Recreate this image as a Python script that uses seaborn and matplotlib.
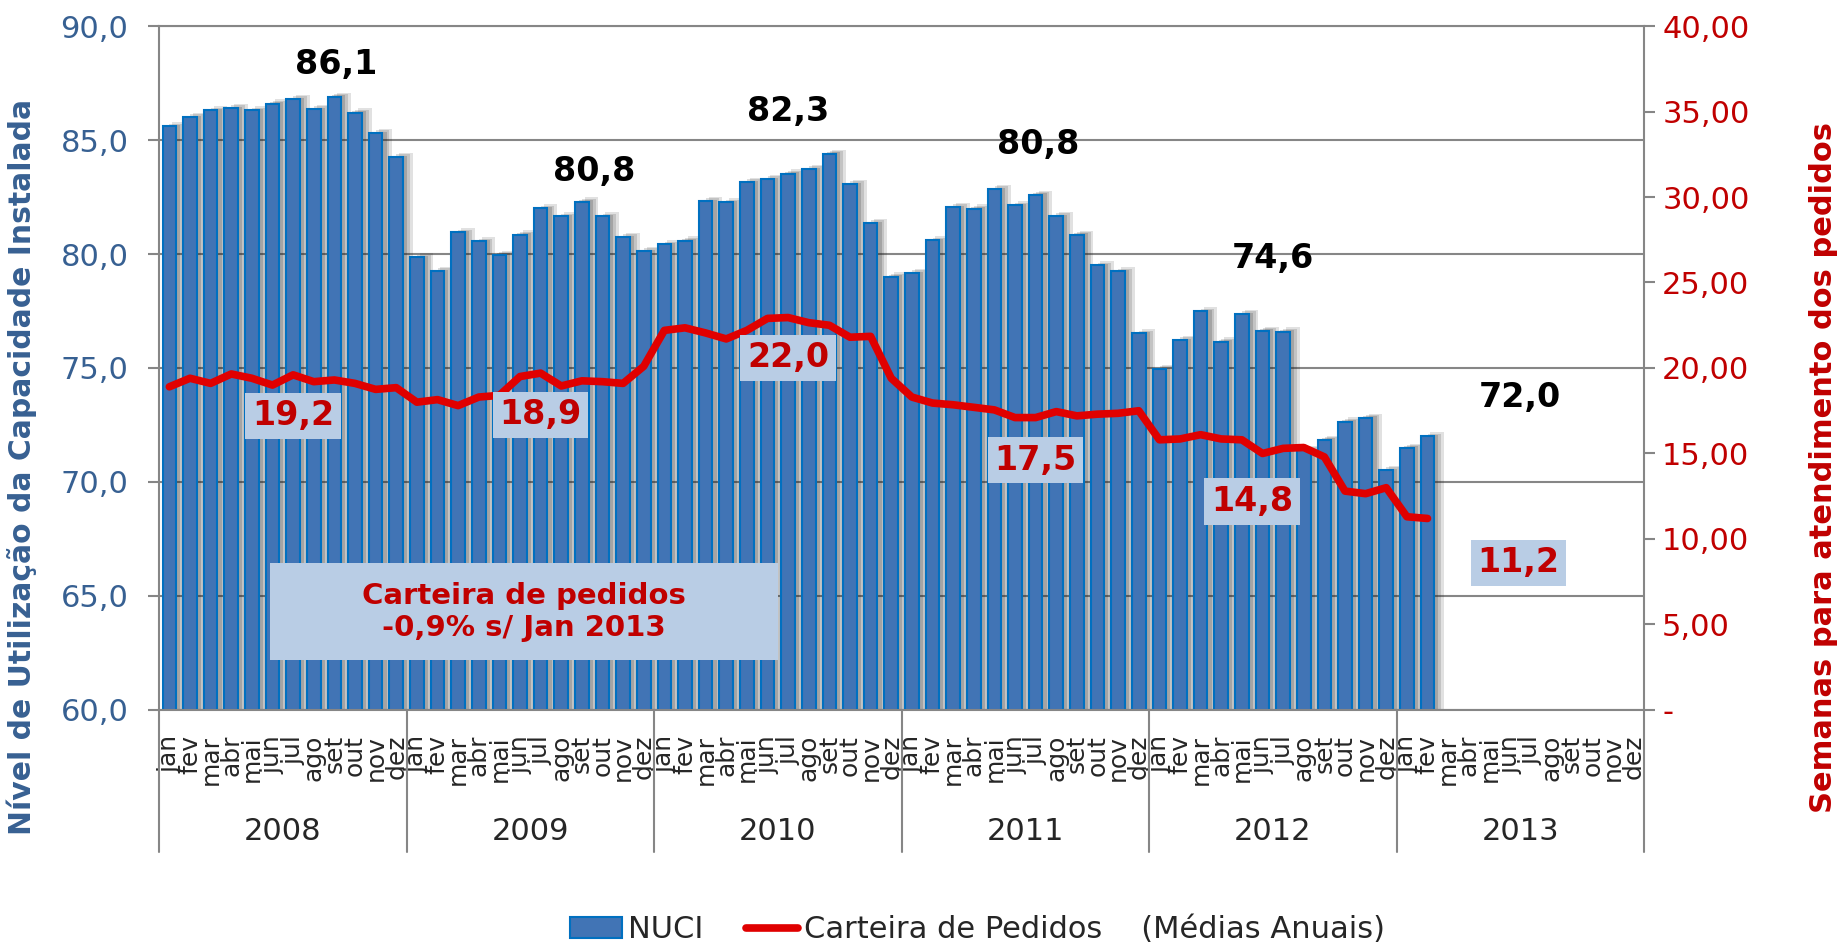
import numpy as np
import pandas as pd
import matplotlib
matplotlib.use('Agg')
import matplotlib.pyplot as plt
import matplotlib.patheffects as pe
import matplotlib.transforms as mtransforms
from matplotlib.patches import Patch, Rectangle
from matplotlib.lines import Line2D
import seaborn as sns

# categories
months = ['jan', 'fev', 'mar', 'abr', 'mai', 'jun', 'jul', 'ago', 'set', 'out', 'nov', 'dez']
years = ['2008', '2009', '2010', '2011', '2012', '2013']

# NUCI (%), jan/2008 .. fev/2013
nuci = [85.6, 86.0, 86.3, 86.4, 86.3, 86.6, 86.8, 86.35, 86.9, 86.2, 85.3, 84.25,
        79.85, 79.25, 80.95, 80.55, 79.97, 80.85, 82.0, 81.65, 82.3, 81.65, 80.75, 80.12,
        80.42, 80.59, 82.32, 82.26, 83.16, 83.29, 83.53, 83.72, 84.4, 83.07, 81.35, 79.01,
        79.16, 80.6, 82.06, 81.99, 82.85, 82.13, 82.6, 81.66, 80.84, 79.5, 79.24, 76.52,
        74.95, 76.23, 77.48, 76.16, 77.37, 76.63, 76.6, 71.4, 71.85, 72.65, 72.82, 70.53,
        71.5, 72.0]

# Carteira de pedidos (semanas), jan/2008 .. fev/2013
carteira = [18.9, 19.4, 19.1, 19.65, 19.4, 19.0, 19.6, 19.2, 19.3, 19.1, 18.75, 18.85,
            18.0, 18.15, 17.8, 18.3, 18.4, 19.5, 19.7, 18.95, 19.25, 19.2, 19.1, 20.1,
            22.2, 22.35, 22.05, 21.7, 22.2, 22.9, 22.95, 22.65, 22.5, 21.8, 21.85, 19.4,
            18.3, 17.95, 17.85, 17.7, 17.55, 17.1, 17.1, 17.45, 17.2, 17.3, 17.35, 17.5,
            15.8, 15.85, 16.1, 15.85, 15.8, 15.0, 15.3, 15.35, 14.8, 12.8, 12.65, 13.0,
            11.3, 11.2]

# annual averages written on the chart
nuci_avg_labels = ['86,1', '80,8', '82,3', '80,8', '74,6', '72,0']
cart_avg_labels = ['19,2', '18,9', '22,0', '17,5', '14,8', '11,2']
note_text = 'Carteira de pedidos\n-0,9% s/ Jan 2013'

# label placement (month index, left-axis value)
nuci_lab_pos = [(8.1, 88.3), (20.6, 83.6), (30.0, 86.25), (42.1, 84.8), (53.5, 79.8), (65.5, 73.7)]
cart_lab_pos = [(6.0, 72.9), (18.0, 72.95), (30.0, 75.45), (42.0, 70.95), (52.5, 69.15), (65.4, 66.45)]
note_box = (4.88, 62.2, 24.62, 4.25)  # x, y, width, height
note_pos = (17.2, 64.3)

BAR = '#4174B5'
BAR_EDGE = '#0070C0'
RED_LINE = '#E00000'
DARK_RED = '#C00000'
BLUE_TXT = '#376092'
GRID = '#868686'
BOX = '#B9CDE5'

sns.set_theme(style='white')
plt.rcParams['font.family'] = ['DejaVu Sans']

df = pd.DataFrame({'pos': np.arange(len(nuci)), 'nuci': nuci, 'carteira': carteira})
n_cat = len(months) * len(years)

fig = plt.figure(figsize=(18.45, 9.46), dpi=100)
ax = fig.add_axes([0.0862, 0.2495, 0.8049, 0.7230])

sns.barplot(data=df, x='pos', y='nuci', native_scale=True, width=0.66, color=BAR,
            saturation=1, edgecolor=BAR_EDGE, linewidth=1.5, ax=ax)
# soft grey shadow to the right of each bar
for p in ax.patches:
    p.set_path_effects([
        pe.SimplePatchShadow(offset=(7, 3), shadow_rgbFace='k', alpha=0.13),
        pe.SimplePatchShadow(offset=(5, 2), shadow_rgbFace='k', alpha=0.15),
        pe.SimplePatchShadow(offset=(3, 1), shadow_rgbFace='k', alpha=0.18),
        pe.Normal()])

ax.set_xlim(-0.5, n_cat - 0.5)
ax.set_ylim(60, 90)
yt = np.arange(60, 91, 5)
ax.set_yticks(yt)
ax.set_yticklabels([f'{v:.1f}'.replace('.', ',') for v in yt], fontsize=22, color=BLUE_TXT)
ax.yaxis.grid(True, color=GRID, lw=1.5)
ax.set_axisbelow(True)
ax.tick_params(axis='y', length=8, width=1.5, color=GRID, pad=14, left=True)

ax.set_xticks(np.arange(n_cat))
ax.set_xticklabels(months * len(years), rotation=90, fontsize=18, va='top')
ax.tick_params(axis='x', length=0, pad=18)
ax.set_xlabel('')
for s in ax.spines.values():
    s.set_color(GRID)
    s.set_linewidth(1.5)

ax.set_ylabel('Nível de Utilização da Capacidade Instalada', fontsize=21.5,
              fontweight='bold', color=BLUE_TXT)
ax.yaxis.set_label_coords(-0.082, 0.355)

# year separators and year labels under the month labels
trans = mtransforms.blended_transform_factory(ax.transData, ax.transAxes)
for k in range(len(years) + 1):
    ax.plot([12 * k - 0.5] * 2, [0, -0.208], transform=trans, color=GRID, lw=1.5, clip_on=False)
for k, yr in enumerate(years):
    ax.text(12 * k + 5.5, -0.178, yr, transform=trans, ha='center', va='center', fontsize=22)

# right axis: carteira de pedidos
ax2 = ax.twinx()
sns.lineplot(data=df, x='pos', y='carteira', ax=ax2, color=RED_LINE, lw=5.5)
ax2.set_ylim(0, 40)
rt = np.arange(0, 41, 5)
ax2.set_yticks(rt)
ax2.set_yticklabels(['-' if v == 0 else f'{v:.2f}'.replace('.', ',') for v in rt],
                    fontsize=22, color=DARK_RED)
ax2.tick_params(axis='y', length=8, width=1.5, color=GRID, pad=5, right=True)
ax2.grid(False)
ax2.set_xlim(-0.5, n_cat - 0.5)
for s in ax2.spines.values():
    s.set_visible(False)
ax2.set_ylabel('Semanas para atendimento dos pedidos', fontsize=22, fontweight='bold',
               color=DARK_RED)
ax2.yaxis.set_label_coords(1.111, 0.355)

# annotations (placed in the left axis data coordinates)
for txt, (x, y) in zip(nuci_avg_labels, nuci_lab_pos):
    ax2.text(x, y, txt, transform=ax.transData, ha='center', va='center',
             fontsize=24, fontweight='bold', color='black', zorder=6)
for txt, (x, y) in zip(cart_avg_labels, cart_lab_pos):
    ax2.text(x, y, txt, transform=ax.transData, ha='center', va='center',
             fontsize=24, fontweight='bold', color=DARK_RED, zorder=6,
             bbox=dict(boxstyle='square,pad=0.2', fc=BOX, ec='none'))

bx, by, bw, bh = note_box
ax2.add_patch(Rectangle((bx, by), bw, bh, transform=ax.transData, fc=BOX, ec='none', zorder=5))
ax2.text(note_pos[0], note_pos[1], note_text, transform=ax.transData, ha='center', va='center',
         fontsize=21, fontweight='bold', color=DARK_RED, linespacing=1.15, zorder=6)

handles = [Patch(facecolor=BAR, edgecolor=BAR_EDGE, lw=1.5),
           Line2D([], [], color=RED_LINE, lw=5.5)]
fig.legend(handles, ['NUCI', 'Carteira de Pedidos    (Médias Anuais)'], loc='center',
           bbox_to_anchor=(0.53, 0.017), ncol=2, frameon=False, fontsize=22,
           handlelength=1.7, handletextpad=0.2, columnspacing=1.4)

fig.savefig('out.png', dpi=100)
